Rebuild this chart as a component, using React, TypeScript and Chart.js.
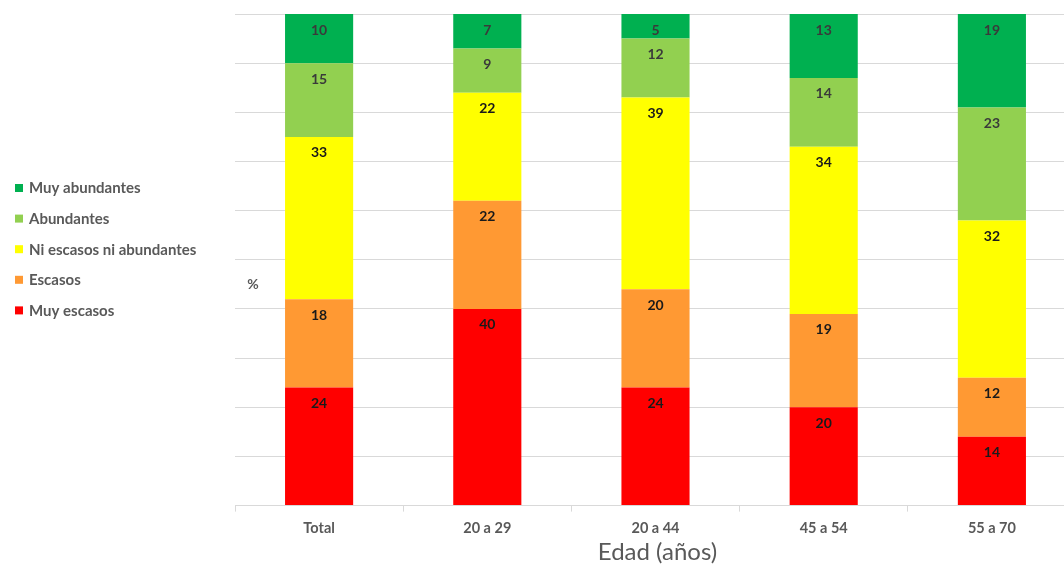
import React, { useEffect, useRef } from "react";
import { Chart, registerables } from "chart.js";
Chart.register(...registerables);

const categories = ["Total", "20 a 29", "20 a 44", "45 a 54", "55 a 70"];
const muyEscasos = [24, 40, 24, 20, 14];
const escasos = [18, 22, 20, 19, 12];
const niEscasosNiAbundantes = [33, 22, 39, 34, 32];
const abundantes = [15, 9, 12, 14, 23];
const muyAbundantes = [10, 7, 5, 13, 19];
const seriesNames = ["Muy escasos", "Escasos", "Ni escasos ni abundantes", "Abundantes", "Muy abundantes"];
const seriesColors = ["#ff0000", "#ff9933", "#ffff00", "#92d050", "#00b050"];
const labelColors = ["#1a1a1a", "#1a1a1a", "#1a1a1a", "#3a3a3a", "#3a3a3a"];
const yMax = 100;
const yStep = 10;
const yAxisTitle = "%";
const xAxisTitle = "Edad (años)";

const FONT = "Lato, 'Open Sans', sans-serif";

const overlayPlugin = {
  id: "overlay",
  afterDatasetsDraw(chart: any) {
    const ctx = chart.ctx;
    const area = chart.chartArea;
    ctx.save();
    ctx.font = `bold 14px ${FONT}`;
    ctx.textAlign = "center";
    ctx.textBaseline = "middle";
    chart.data.datasets.forEach((ds: any, i: number) => {
      const meta = chart.getDatasetMeta(i);
      meta.data.forEach((el: any, j: number) => {
        ctx.fillStyle = labelColors[i];
        ctx.fillText(String(ds.data[j]), el.x, el.y + 16);
      });
    });
    // y axis title inside plot
    ctx.font = `bold 14px ${FONT}`;
    ctx.fillStyle = "#595959";
    ctx.fillText(yAxisTitle, area.left + 18, 284);
    // x axis title
    ctx.font = `24px ${FONT}`;
    ctx.fillText(xAxisTitle, (area.left + area.right) / 2 + 2, area.bottom + 47);
    // legend (reversed order)
    ctx.textAlign = "left";
    ctx.font = `bold 15px ${FONT}`;
    const n = chart.data.datasets.length;
    for (let k = 0; k < n; k++) {
      const ds = chart.data.datasets[n - 1 - k];
      const y = 188 + k * 30.6;
      ctx.fillStyle = ds.backgroundColor;
      ctx.fillRect(15, y - 4, 8, 8);
      ctx.fillStyle = "#595959";
      ctx.fillText(ds.label, 29, y + 0.5);
    }
    ctx.restore();
  },
};

export default function App() {
  const ref = useRef<HTMLCanvasElement | null>(null);
  useEffect(() => {
    if (!ref.current) return;
    const seriesData = [muyEscasos, escasos, niEscasosNiAbundantes, abundantes, muyAbundantes];
    const chart = new Chart(ref.current, {
      type: "bar",
      data: {
        labels: categories,
        datasets: seriesData.map((d, i) => ({
          label: seriesNames[i],
          data: d,
          backgroundColor: seriesColors[i],
          borderWidth: 0,
          categoryPercentage: 1,
          barPercentage: 0.405,
        })),
      },
      options: {
        animation: false,
        responsive: true,
        maintainAspectRatio: false,
        layout: { padding: { left: 235, right: 0, top: 14, bottom: 29 } },
        plugins: { legend: { display: false }, tooltip: { enabled: false } },
        scales: {
          x: {
            stacked: true,
            grid: { display: true, drawOnChartArea: false, drawTicks: true, tickLength: 6, color: "#d9d9d9", offset: true },
            border: { display: true, color: "#d9d9d9" },
            ticks: { color: "#595959", font: { family: FONT, size: 14.5, weight: "bold" }, padding: 8 },
          },
          y: {
            stacked: true,
            min: 0,
            max: yMax,
            ticks: { display: false, stepSize: yStep },
            grid: { color: "#d9d9d9", drawTicks: false },
            border: { display: false },
          },
        },
      },
      plugins: [overlayPlugin],
    });
    return () => chart.destroy();
  }, []);
  return (
    <div style={{ position: "absolute", left: 0, top: 0, width: 1064, height: 574, overflow: "hidden", background: "#fff" }}>
      <div style={{ position: "absolute", left: 0, top: 0, width: 1076, height: 574 }}>
        <canvas ref={ref} />
      </div>
    </div>
  );
}
